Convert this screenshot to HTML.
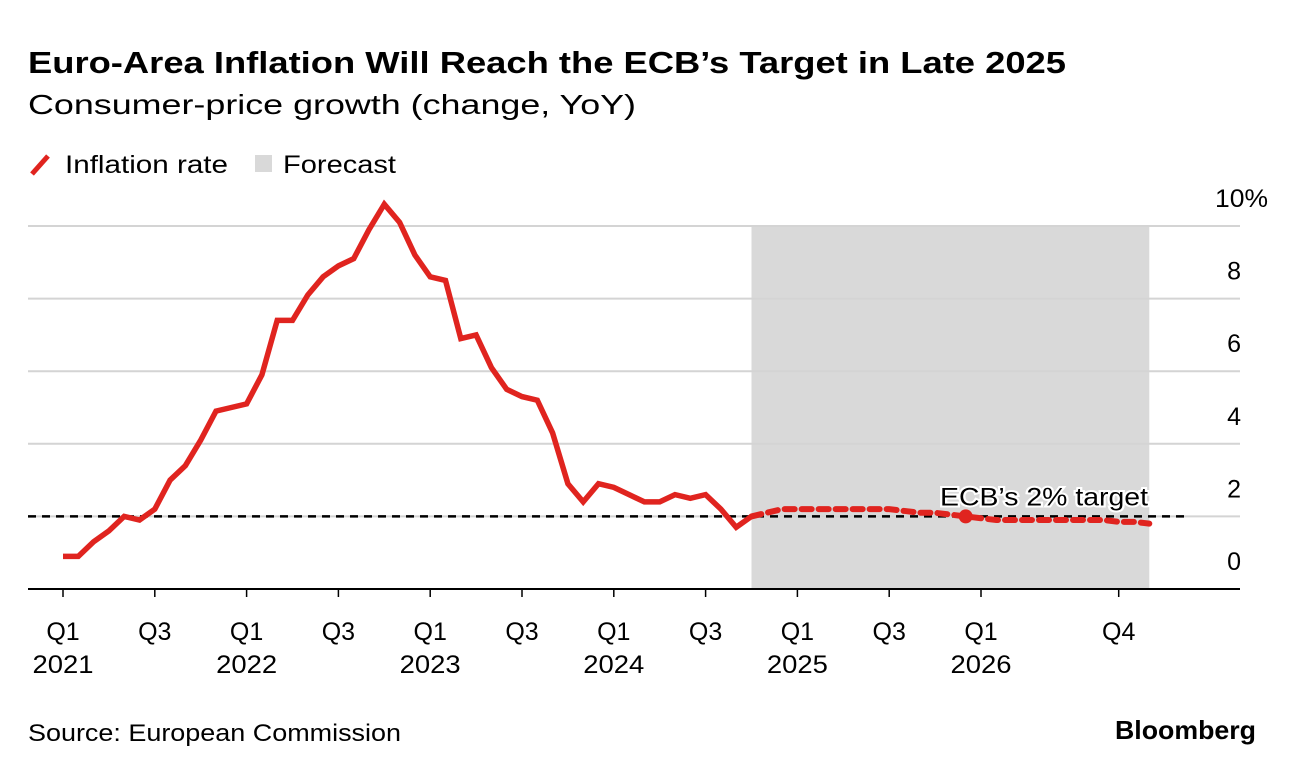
<!DOCTYPE html>
<html><head><meta charset="utf-8"><style>
body{margin:0;background:#fff;font-family:"Liberation Sans",Arial,sans-serif;}
svg text{font-family:"Liberation Sans",Arial,sans-serif;}
</style></head><body>
<svg id="c" width="1296" height="774" viewBox="0 0 1296 774">
<text x="28" y="73" font-size="31" font-weight="bold" fill="#000" textLength="1038" lengthAdjust="spacingAndGlyphs">Euro-Area Inflation Will Reach the ECB’s Target in Late 2025</text>
<text x="28" y="114" font-size="28" fill="#000" textLength="608" lengthAdjust="spacingAndGlyphs">Consumer-price growth (change, YoY)</text>
<g>
<line x1="32" y1="174" x2="48" y2="156" stroke="#e0241f" stroke-width="5"/>
<text x="65" y="173" font-size="25" textLength="163" lengthAdjust="spacingAndGlyphs">Inflation rate</text>
<rect x="255" y="155" width="17" height="17" fill="#d9d9d9"/>
<text x="283" y="173" font-size="25" textLength="113" lengthAdjust="spacingAndGlyphs">Forecast</text>
</g>
<g id="plot"></g>
<text x="28" y="741" font-size="24" textLength="373" lengthAdjust="spacingAndGlyphs">Source: European Commission</text>
<text x="1115" y="739" font-size="26" font-weight="bold" textLength="141" lengthAdjust="spacingAndGlyphs">Bloomberg</text>
</svg>
<script>
const actual=[0.9,0.9,1.3,1.6,2.0,1.9,2.2,3.0,3.4,4.1,4.9,5.0,5.1,5.9,7.4,7.4,8.1,8.6,8.9,9.1,9.9,10.6,10.1,9.2,8.6,8.5,6.9,7.0,6.1,5.5,5.3,5.2,4.3,2.9,2.4,2.9,2.8,2.6,2.4,2.4,2.6,2.5,2.6,2.2,1.7,2.0];
const forecast=[2.0,2.1,2.2,2.2,2.2,2.2,2.2,2.2,2.2,2.2,2.15,2.1,2.1,2.05,2.0,1.95,1.9,1.9,1.9,1.9,1.9,1.9,1.9,1.9,1.85,1.85,1.8];
const forecastStart=45;
const targetIndex=59;
const targetValue=2;
const yTicks=[0,2,4,6,8,10];
const xTickMonths=[0,6,12,18,24,30,36,42,48,54,60,69];
const xTickTop=["Q1","Q3","Q1","Q3","Q1","Q3","Q1","Q3","Q1","Q3","Q1","Q4"];
const xTickBottom=["2021","","2022","","2023","","2024","","2025","","2026",""];
const forecastBand=[45,71];

const NS="http://www.w3.org/2000/svg";
const g=document.getElementById('plot');
const X=m=>63+m*15.3;
const Y=v=>589-v*36.3;
function el(t,a){const e=document.createElementNS(NS,t);for(const k in a)e.setAttribute(k,a[k]);g.appendChild(e);return e;}

const band=el('rect',{x:X(forecastBand[0]),y:Y(10),width:X(forecastBand[1])-X(forecastBand[0]),height:Y(0)-Y(10),fill:'#d9d9d9'});



yTicks.forEach(v=>{
 if(v>0){const l=el('line',{x1:28,x2:1240,y1:Y(v),y2:Y(v),stroke:'#d4d4d4','stroke-width':2});
 
 }
 const t=el('text',{x:v==10?1268:1241,y:Y(v)-19,'font-size':25,'text-anchor':'end'});
 t.textContent=v==10?'10%':String(v);
 if(v==10){t.setAttribute('textLength','53');t.setAttribute('lengthAdjust','spacingAndGlyphs');}
 
 
});

const tl=el('line',{x1:28,x2:1185,y1:Y(targetValue),y2:Y(targetValue),stroke:'#000','stroke-width':2.5,'stroke-dasharray':'8,6'});



const ax=el('line',{x1:28,x2:1240,y1:Y(0),y2:Y(0),stroke:'#000','stroke-width':2});



xTickMonths.forEach((m,i)=>{
 const tk=el('line',{x1:X(m),x2:X(m),y1:Y(0),y2:Y(0)+8,stroke:'#000','stroke-width':1.5});
 
 
 const t=el('text',{x:X(m),y:640,'font-size':25,'text-anchor':'middle'});
 t.textContent=xTickTop[i];
 
 
 if(xTickBottom[i]){const b=el('text',{x:X(m),y:673,'font-size':25,'text-anchor':'middle',textLength:61,lengthAdjust:'spacingAndGlyphs'});
 b.textContent=xTickBottom[i];
 
 }
});

const fp=el('polyline',{points:forecast.map((v,i)=>X(forecastStart+i)+','+Y(v)).join(' '),fill:'none',stroke:'#e0241f','stroke-width':6,'stroke-dasharray':'10,7','stroke-linecap':'round'});



const ap=el('polyline',{points:actual.map((v,i)=>X(i)+','+Y(v)).join(' '),fill:'none',stroke:'#e0241f','stroke-width':5.5,'stroke-linejoin':'miter'});



const dot=el('circle',{cx:X(targetIndex),cy:Y(forecast[targetIndex-forecastStart]),r:7,fill:'#e0241f'});



const lab=el('text',{x:940,y:Y(targetValue)-11,'font-size':25,textLength:208,lengthAdjust:'spacingAndGlyphs',stroke:'#fff','stroke-width':4,'paint-order':'stroke'});
lab.textContent='ECB’s 2% target';


</script>
</body></html>
